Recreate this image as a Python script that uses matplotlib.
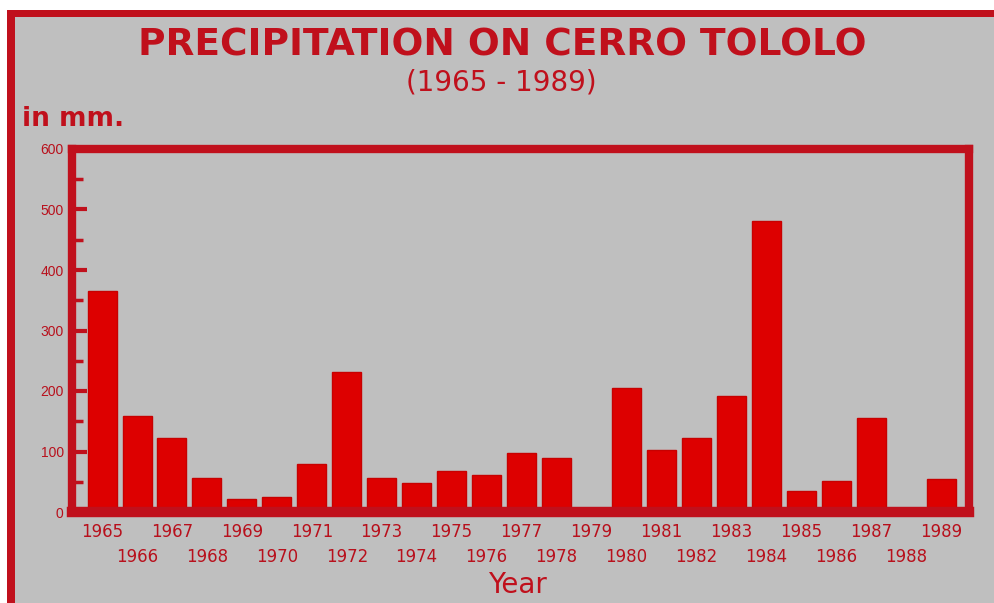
import matplotlib
matplotlib.use("Agg")
import matplotlib.pyplot as plt
from matplotlib.patches import Rectangle
from matplotlib.ticker import MultipleLocator

# rainfall per year (mm)
years = list(range(1965, 1990))
rain_mm = [366, 159, 123, 57, 21, 24, 80, 231, 57, 48,
           68, 61, 97, 90, 3, 205, 103, 123, 191, 481,
           34, 51, 156, 0, 55]

title = "PRECIPITATION ON CERRO TOLOLO"
subtitle = "(1965 - 1989)"
ylabel = "in mm."
xlabel = "Year"

gray = "#bfbfbf"
frame_red = "#c0101c"
bar_red = "#dd0000"
text_red = "#b8101c"

W, H = 995, 603
fig = plt.figure(figsize=(W / 100, H / 100), dpi=100)
fig.patch.set_facecolor("white")

def px_rect(x0, y0, x1, y1, color):
    # pixel box (top-left origin) -> figure fraction rectangle
    fig.add_artist(Rectangle((x0 / W, 1 - y1 / H), (x1 - x0) / W, (y1 - y0) / H,
                             transform=fig.transFigure, color=color, lw=0, zorder=-10))

px_rect(7, 10, W, H, gray)
px_rect(7, 10, W, 17, frame_red)
px_rect(7, 10, 15, H, frame_red)

ax = fig.add_axes([72 / W, 1 - 512 / H, (969 - 72) / W, (512 - 149) / H])
ax.set_facecolor(gray)
ax.bar(years, rain_mm, width=0.83, color=bar_red, edgecolor="#c80000", linewidth=1, zorder=2)
ax.set_xlim(1964.14, 1989.8)
ax.set_ylim(0, 600)

for s in ax.spines.values():
    s.set_color(frame_red)
    s.set_linewidth(6)
ax.spines["bottom"].set_linewidth(7.5)

ax.yaxis.set_major_locator(MultipleLocator(100))
ax.yaxis.set_minor_locator(MultipleLocator(50))
ax.tick_params(axis="y", which="major", direction="in", length=11, width=3,
               color=frame_red, labelcolor=text_red, labelsize=10, pad=6)
ax.tick_params(axis="y", which="minor", direction="in", length=8, width=2.5,
               color=frame_red)
for lab in ax.get_yticklabels():
    lab.set_family("Liberation Sans")

odd = [y for y in years if y % 2 == 1]
even = [y for y in years if y % 2 == 0]
ax.set_xticks(odd, [str(y) for y in odd])
ax.set_xticks(even, [str(y) for y in even], minor=True)
ax.tick_params(axis="x", which="major", length=0, pad=8, labelsize=12,
               labelcolor=text_red)
ax.tick_params(axis="x", which="minor", length=0, pad=26, labelsize=12,
               labelcolor=text_red)

fig.text(502 / W, 1 - 45 / H, title, ha="center", va="center", fontsize=27,
         fontweight="bold", color=frame_red, family="DejaVu Sans")
fig.text(501 / W, 1 - 82 / H, subtitle, ha="center", va="center", fontsize=20,
         color=frame_red, family="DejaVu Sans")
fig.text(22 / W, 1 - 119 / H, ylabel, ha="left", va="center", fontsize=19,
         fontweight="bold", color=frame_red, family="DejaVu Sans")
fig.text(517 / W, 1 - 585 / H, xlabel, ha="center", va="center", fontsize=20,
         color=frame_red, family="DejaVu Sans")

fig.savefig("out.png", dpi=100)
